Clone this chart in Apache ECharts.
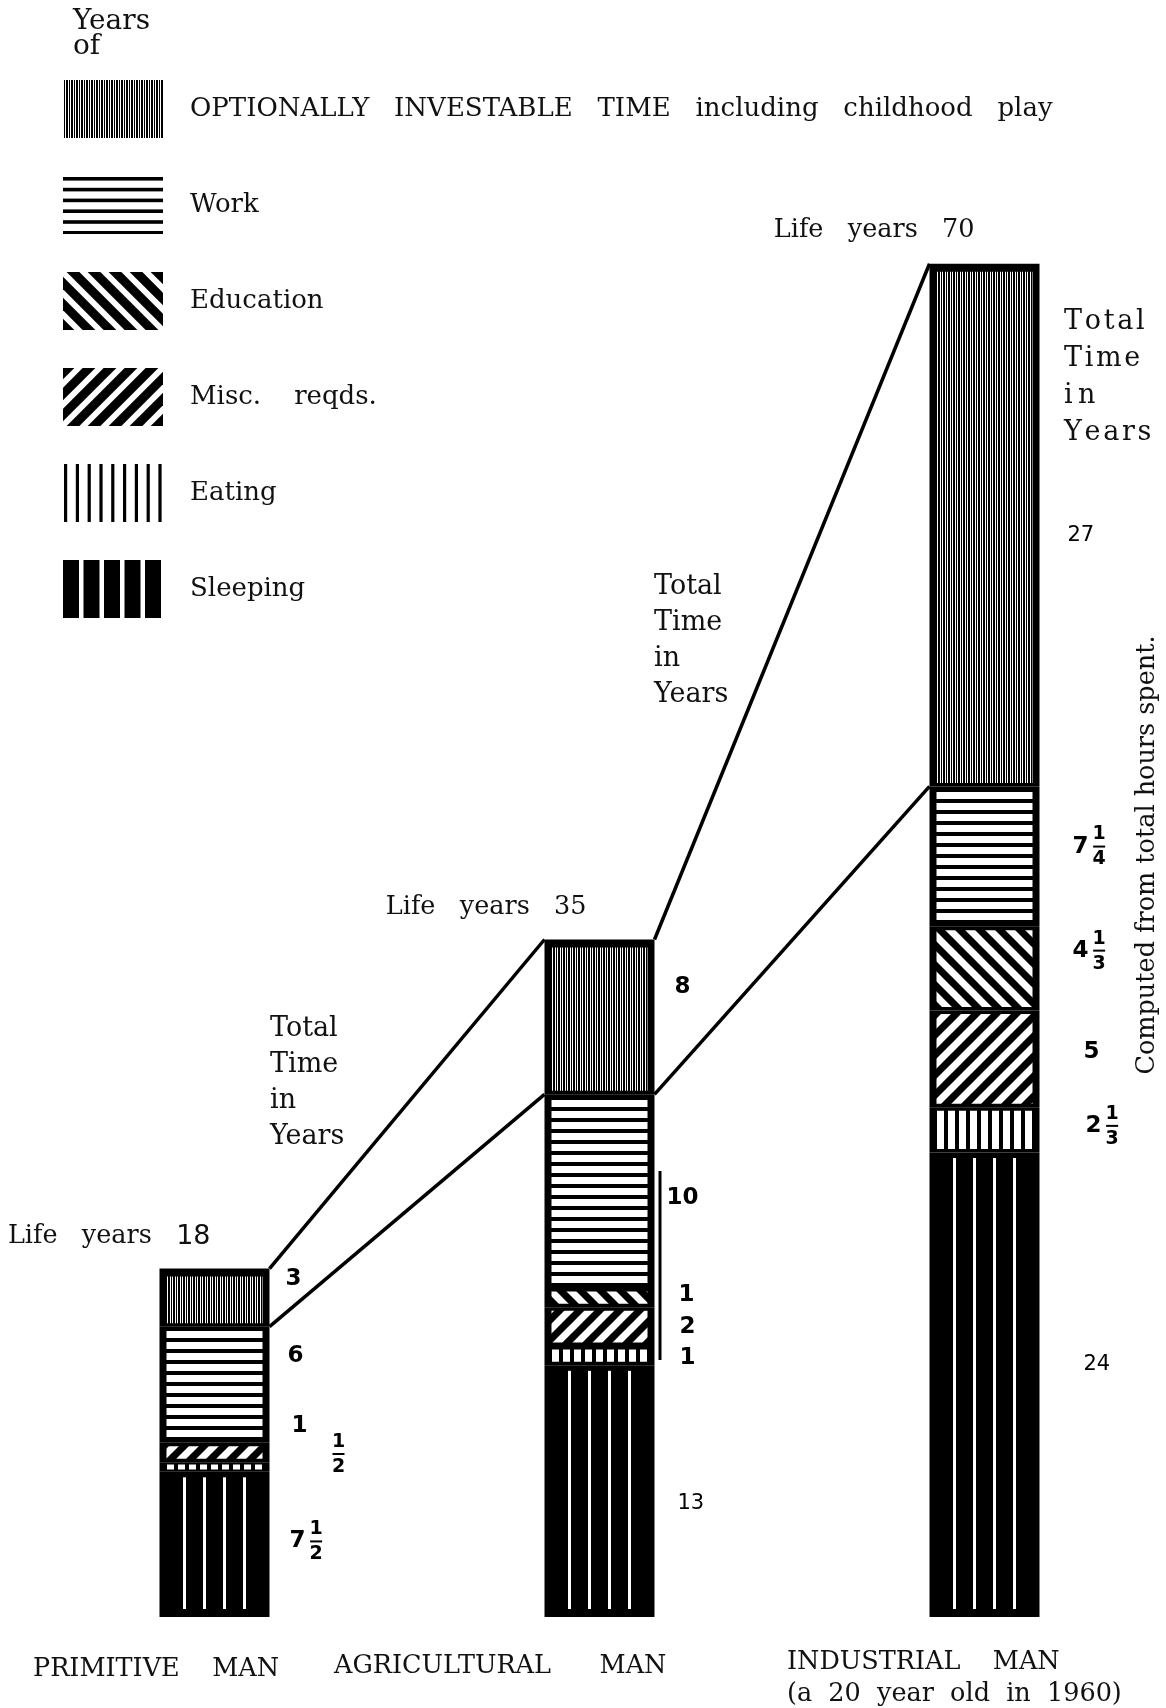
<!DOCTYPE html>
<html><head><meta charset="utf-8">
<script src="https://cdn.jsdelivr.net/npm/echarts@6/dist/echarts.min.js"></script>
<style>html,body{margin:0;padding:0;background:#fff}#c{width:1166px;height:1708px}</style>
</head><body><div id="c"></div>
<script>
// ---------- DATA (years of a lifetime) ----------
const categories = ['PRIMITIVE MAN', 'AGRICULTURAL MAN', 'INDUSTRIAL MAN'];
const lifeYears  = [18, 35, 70];
const sleeping   = [7.5, 13, 24];
const eating     = [0.5, 1, 2.33];
const misc       = [1, 2, 5];
const education  = [0, 1, 4.33];
const work       = [6, 10, 7.25];
const optional   = [3, 8, 27];
const seriesNames = {
  optional: 'OPTIONALLY INVESTABLE TIME including childhood play',
  work: 'Work', education: 'Education', misc: 'Misc. reqds.', eating: 'Eating', sleeping: 'Sleeping'
};
const bottomLabels = ['PRIMITIVE    MAN', 'AGRICULTURAL      MAN', 'INDUSTRIAL    MAN', '(a  20  year  old  in  1960)'];

// ---------- STYLE ----------
const SERIF = '"DejaVu Serif", serif';
const SANS = '"DejaVu Sans", sans-serif';
const BAR_W = 110;
const values = {sleeping, eating, misc, education, work, optional};
const stackOrder = ['sleeping', 'eating', 'misc', 'education', 'work', 'optional'];
const legendOrder = ['optional', 'work', 'education', 'misc', 'eating', 'sleeping'];
const legendText = {
  optional: 'OPTIONALLY   INVESTABLE   TIME   including   childhood   play',
  work: 'Work', education: 'Education', misc: 'Misc.    reqds.', eating: 'Eating', sleeping: 'Sleeping'
};
// label placement tweaks: [dx from bar right edge, dy from segment centre]
const labelNudge = {
  optional0: [16, -19], work0: [18, -29], misc0: [22, -26], eating0: [62, -13], sleeping0: [20, -3],
  optional1: [20, -30], work1: [12, 7], education1: [24, -3], misc1: [25, 0], eating1: [25, 2], sleeping1: [23, 12],
  optional2: [28, 10], work2: [33, -10], education2: [33, -18], misc2: [44, -7], eating2: [46, -4], sleeping2: [44, -20]
};
const plainLabels = ['sleeping1', 'optional2', 'sleeping2'];
const lifeLabelDx = [-4, -13, -10];

function cv(w, h, fn) {
  const c = document.createElement('canvas'); c.width = w; c.height = h;
  fn(c.getContext('2d'), w, h); return c;
}
function diag(g, w, h, period, lw, color, dir) {
  g.strokeStyle = color; g.lineWidth = lw;
  for (let o = -2 * h - period; o < w + 2 * h + period; o += period) {
    g.beginPath();
    if (dir > 0) { g.moveTo(o - h, -h); g.lineTo(o + 2 * h, 2 * h); }
    else { g.moveTo(o - h, 2 * h); g.lineTo(o + 2 * h, -h); }
    g.stroke();
  }
}
const barPatterns = {
  optional: cv(5, 4, (g, w, h) => { g.fillStyle = '#000'; g.fillRect(0, 0, w, h); g.fillStyle = '#fff'; g.fillRect(0, 0, 1, h); g.fillRect(2, 0, 1, h); }),
  work: cv(4, 11, (g, w, h) => { g.fillStyle = '#000'; g.fillRect(0, 0, w, h); g.fillStyle = '#fff'; g.fillRect(0, 0, w, 7); }),
  education: cv(20, 20, (g, w, h) => { g.fillStyle = '#000'; g.fillRect(0, 0, w, h); diag(g, w, h, 20, 7, '#fff', 1); }),
  misc: cv(20, 20, (g, w, h) => { g.fillStyle = '#000'; g.fillRect(0, 0, w, h); diag(g, w, h, 20, 7, '#fff', -1); }),
  eating: cv(11, 4, (g, w, h) => { g.fillStyle = '#000'; g.fillRect(0, 0, w, h); g.fillStyle = '#fff'; g.fillRect(2, 0, 7, h); })
};
const IW = 100, IH = 58;
const legendIcons = {
  optional: cv(IW, IH, (g, w, h) => { g.fillStyle = g.createPattern(barPatterns.optional, 'repeat'); g.fillRect(0, 0, w, h); }),
  work: cv(IW, IH, (g, w, h) => { g.fillStyle = '#000'; for (let k = 0; k < 6; k++) g.fillRect(0, 1 + k * 10.8, w, 3.6); }),
  education: cv(IW, IH, (g, w, h) => { diag(g, w, h, 21, 9, '#000', 1); }),
  misc: cv(IW, IH, (g, w, h) => { diag(g, w, h, 21, 9, '#000', -1); }),
  eating: cv(IW, IH, (g, w, h) => { g.fillStyle = '#000'; for (let k = 0; k < 9; k++) g.fillRect(1 + k * 11.8, 0, 3.2, h); }),
  sleeping: cv(IW, IH, (g, w, h) => { g.fillStyle = '#000'; for (let k = 0; k < 5; k++) g.fillRect(k * 20.5, 0, 16, h); })
};

// stack bases derived from the data
const bases = {};
let run = [0, 0, 0];
stackOrder.forEach(k => { bases[k] = run.slice(); run = run.map((r, i) => r + values[k][i]); });
const totals = run;

function labelEls(key, ci, xR, yC, v) {
  const nd = labelNudge[key + ci] || [18, 0];
  const plain = plainLabels.includes(key + ci);
  let x = xR + nd[0];
  const y = yC + nd[1];
  const whole = Math.floor(v + 1e-6), rest = v - whole;
  const den = rest > 0.01 ? Math.round(1 / rest) : 0;
  const fs = plain ? 21 : 23;
  const font = (plain ? 'normal ' : 'bold ') + fs + 'px ' + SANS;
  const els = [];
  if (whole > 0) {
    const s = String(whole);
    els.push({type: 'text', style: {text: s, x, y, font, fill: '#000', align: 'left', verticalAlign: 'middle'}});
    x += s.length * fs * 0.68 + 4;
  }
  if (den) {
    const ff = 'bold 19px ' + SANS;
    els.push({type: 'text', style: {text: '1', x: x + 7, y: y - 12, font: ff, fill: '#000', align: 'center', verticalAlign: 'middle'}});
    els.push({type: 'line', shape: {x1: x + 1, y1: y, x2: x + 13, y2: y}, style: {stroke: '#000', lineWidth: 2}});
    els.push({type: 'text', style: {text: String(den), x: x + 7, y: y + 13, font: ff, fill: '#000', align: 'center', verticalAlign: 'middle'}});
  }
  return els;
}

function segmentSeries(key) {
  return {
    type: 'custom', name: seriesNames[key], coordinateSystem: 'cartesian2d', z: 2,
    data: values[key].map((v, i) => [i, bases[key][i], bases[key][i] + v, v]),
    encode: {x: 0, y: [1, 2]},
    renderItem(params, api) {
      const ci = api.value(0), lo = api.value(1), hi = api.value(2), v = api.value(3);
      if (!(v > 0)) return null;
      const pHi = api.coord([ci, hi]), pLo = api.coord([ci, lo]);
      const xL = pHi[0] - BAR_W / 2, yT = pHi[1], yB = pLo[1], h = yB - yT;
      const padX = 7;
      const padT = key === 'optional' ? 8 : Math.min(3.5, h * 0.25);
      const padB = key === 'sleeping' ? 8 : Math.min(3.5, h * 0.25);
      const inner = {x: xL + padX, y: yT + padT, width: BAR_W - 2 * padX, height: h - padT - padB};
      const children = [{type: 'rect', shape: {x: xL, y: yT, width: BAR_W, height: h}, style: {fill: '#000'}}];
      if (key === 'sleeping') {
        [-30, -10, 10, 30].forEach(off => children.push({type: 'rect',
          shape: {x: pHi[0] + off - 1.5, y: inner.y + 2, width: 3, height: inner.height - 2}, style: {fill: '#fff'}}));
      } else {
        children.push({type: 'rect', shape: inner, style: {fill: {image: barPatterns[key], repeat: 'repeat'}}});
      }
      labelEls(key, ci, xL + BAR_W, (yT + yB) / 2, v).forEach(e => children.push(e));
      return {type: 'group', children};
    }
  };
}

const connectorData = [];
for (let i = 0; i < 2; i++) {
  connectorData.push([i, i + 1, totals[i], totals[i + 1]]);
  connectorData.push([i, i + 1, bases.optional[i], bases.optional[i + 1]]);
}

const totalTimeText = 'Total\nTime\nin\nYears';
const chart = echarts.init(document.getElementById('c'), null, {renderer: 'canvas'});
chart.setOption({
  backgroundColor: '#fff',
  animation: false,
  grid: {left: 22, top: 262, width: 1155, height: 1355, outerBoundsMode: 'none', containLabel: false},
  xAxis: {type: 'category', data: categories, show: false},
  yAxis: {type: 'value', min: 0, max: 70, show: false},
  legend: {
    orient: 'vertical', left: 58, top: 75, itemWidth: IW, itemHeight: IH, itemGap: 38,
    selectedMode: false,
    data: legendOrder.map(k => ({name: seriesNames[k], icon: 'image://' + legendIcons[k].toDataURL()})),
    formatter: n => legendText[legendOrder.find(k => seriesNames[k] === n)],
    textStyle: {fontFamily: SERIF, fontSize: 26, color: '#111', padding: [4, 0, 0, 22]}
  },
  series: [
    ...stackOrder.map(segmentSeries),
    {
      type: 'custom', name: 'connectors', z: 3, data: connectorData, encode: {x: [0, 1], y: [2, 3]},
      renderItem(params, api) {
        const a = api.coord([api.value(0), api.value(2)]), b = api.coord([api.value(1), api.value(3)]);
        return {type: 'line', shape: {x1: a[0] + BAR_W / 2, y1: a[1], x2: b[0] - BAR_W / 2, y2: b[1]},
          style: {stroke: '#000', lineWidth: 3.5}};
      }
    },
    {
      type: 'custom', name: 'life', z: 4, data: lifeYears.map((v, i) => [i, v]), encode: {x: 0, y: 1},
      renderItem(params, api) {
        const i = api.value(0), v = api.value(1);
        const p = api.coord([i, v]);
        return {type: 'text', style: {
          text: '{a|Life}{a|   years   }{' + (i === 0 ? 's' : 'a') + '|' + v + '}',
          x: p[0] + lifeLabelDx[i], y: p[1] - 32, align: 'right', verticalAlign: 'middle',
          rich: {a: {fontFamily: SERIF, fontSize: 25.5, fill: '#111'}, s: {fontFamily: SANS, fontSize: 27, fill: '#111'}}
        }};
      }
    }
  ],
  graphic: [
    {type: 'text', z: 100, left: 73, top: 8, style: {text: 'Years\nof', font: '28px ' + SERIF, lineHeight: 25, fill: '#111'}},
    {type: 'text', z: 100, left: 270, top: 1011, style: {text: totalTimeText, font: '27px ' + SERIF, lineHeight: 36, fill: '#111', backgroundColor: '#fff', padding: [0, 4, 0, 0]}},
    {type: 'text', z: 100, left: 654, top: 569, style: {text: totalTimeText, font: '27px ' + SERIF, lineHeight: 36, fill: '#111', backgroundColor: '#fff', padding: [0, 4, 0, 0]}},
    {type: 'text', z: 100, left: 1064, top: 303, style: {text: 'T\u200Ao\u200At\u200Aa\u200Al\nT\u200Ai\u200Am\u200Ae\ni\u200A\u200An\nY\u200Ae\u200Aa\u200Ar\u200As', font: '27px ' + SERIF, lineHeight: 37, fill: '#111'}},
    {type: 'text', z: 100, x: 1147, y: 855, rotation: Math.PI / 2,
      style: {text: 'Computed from total hours spent.', font: '25.5px ' + SERIF, fill: '#111', align: 'center', verticalAlign: 'middle'}},
    {type: 'line', z: 100, shape: {x1: 660, y1: 1171, x2: 660, y2: 1360}, style: {stroke: '#000', lineWidth: 3}},
    {type: 'text', z: 100, left: 33, top: 1656, style: {text: bottomLabels[0], font: '25.5px ' + SERIF, fill: '#111'}},
    {type: 'text', z: 100, left: 334, top: 1653, style: {text: bottomLabels[1], font: '25.5px ' + SERIF, fill: '#111'}},
    {type: 'text', z: 100, left: 787, top: 1649, style: {text: bottomLabels[2], font: '25.5px ' + SERIF, fill: '#111'}},
    {type: 'text', z: 100, left: 787, top: 1681, style: {text: bottomLabels[3], font: '25.5px ' + SERIF, fill: '#111'}}
  ]
});
</script>
</body></html>
